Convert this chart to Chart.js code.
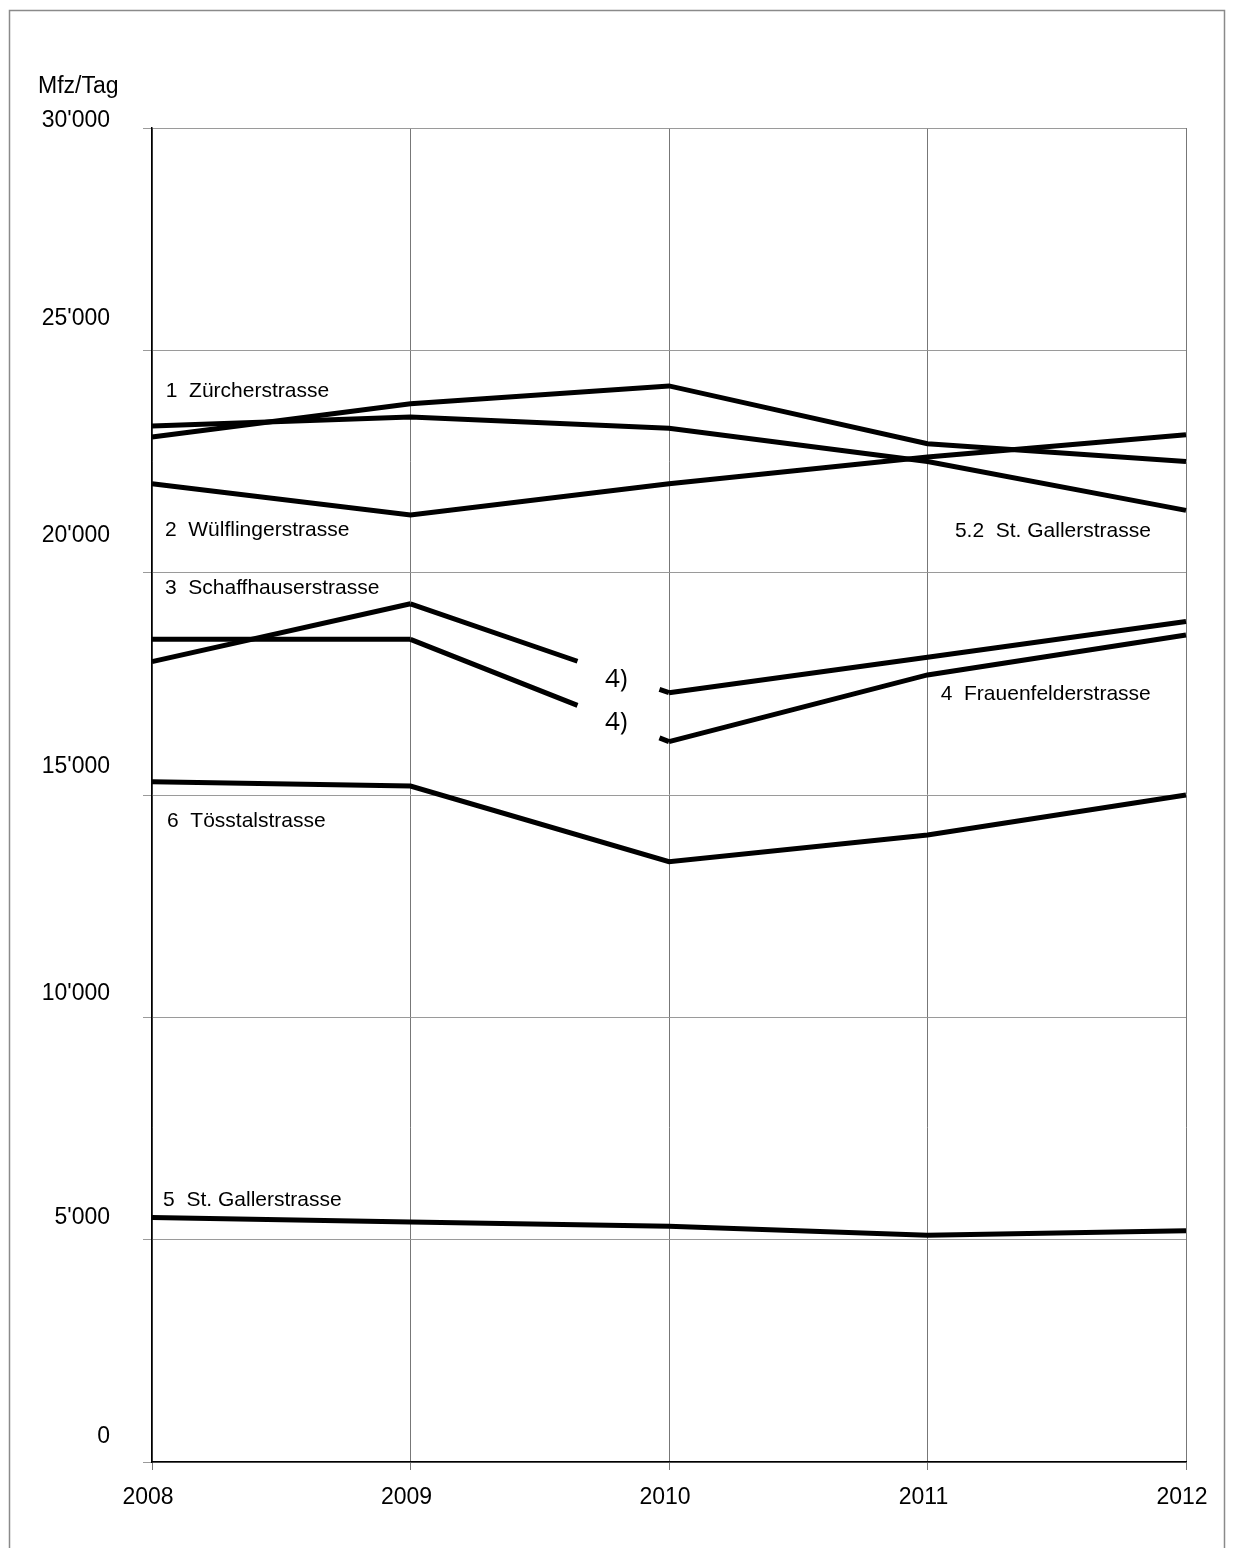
<!DOCTYPE html>
<html>
<head>
<meta charset="utf-8">
<script src="https://cdn.jsdelivr.net/npm/chart.js@4/dist/chart.umd.min.js"></script>
<style>
  html, body { margin: 0; padding: 0; background: #fff; }
  #wrap { position: relative; width: 1233px; height: 1548px; }
</style>
</head>
<body>
<div id="wrap"><canvas id="myChart"></canvas></div>
<script>
const years = ['2008', '2009', '2010', '2011', '2012'];

const zuercher = [23050, 23800, 24200, 22900, 22500];
const stGallen52 = [23300, 23500, 23250, 22500, 21400];
const wuelflinger = [22000, 21300, 22000, 22600, 23100];
const schaffhauser = [18000, 19300, 17300, 18100, 18900];
const frauenfelder = [18500, 18500, 16200, 17700, 18600];
const toesstal = [15300, 15200, 13500, 14100, 15000];
const stGallen5 = [5500, 5400, 5300, 5100, 5200];

const yTicks = [0, 5000, 10000, 15000, 20000, 25000, 30000];

// street labels inside the plot, anchored in axis units (year index, Mfz/Tag)
const notes = [
    { text: '1  Zürcherstrasse', at: 0.053, value: 24075 },
    { text: '2  Wülflingerstrasse', at: 0.05, value: 20964 },
    { text: '3  Schaffhauserstrasse', at: 0.05, value: 19653 },
    { text: '5.2  St. Gallerstrasse', at: 3.106, value: 20926 },
    { text: '4  Frauenfelderstrasse', at: 3.051, value: 17268 },
    { text: '6  Tösstalstrasse', at: 0.058, value: 14403 },
    { text: '5  St. Gallerstrasse', at: 0.043, value: 5893 }
];
const footnotes = [
    { text: '4)', at: 1.752, value: 17601 },
    { text: '4)', at: 1.752, value: 16634 }
];

// vertical shift of each y label above its grid line
const yLabelShift = [-25, -22, -24, -28, -37, -32, -7];

function swiss(v) {
    return String(v).replace(/\B(?=(\d{3})+(?!\d))/g, "'");
}

// 2009-2010 segment has a break (footnote 4)
const gapSegment = {
    borderDash: c => {
        if (c.p0DataIndex !== 1) return undefined;
        const len = Math.hypot(c.p1.x - c.p0.x, c.p1.y - c.p0.y);
        return [len * 0.646, len * 0.317, len];
    }
};

const overlay = {
    id: 'overlay',
    beforeDraw(chart) {
        const ctx = chart.ctx;
        ctx.save();
        ctx.strokeStyle = '#8a8a8a';
        ctx.lineWidth = 1.5;
        ctx.beginPath();
        ctx.moveTo(9.5, 1548);
        ctx.lineTo(9.5, 10.5);
        ctx.lineTo(1224.5, 10.5);
        ctx.lineTo(1224.5, 1548);
        ctx.stroke();
        ctx.restore();
    },
    afterDraw(chart) {
        const ctx = chart.ctx;
        const x = chart.scales.x;
        const y = chart.scales.y;
        ctx.save();
        ctx.fillStyle = '#000';

        ctx.font = '23px "Liberation Sans", Arial, sans-serif';
        ctx.textAlign = 'right';
        ctx.textBaseline = 'middle';
        yTicks.forEach((v, i) => {
            ctx.fillText(swiss(v), 110, y.getPixelForValue(v) + yLabelShift[i]);
        });
        ctx.textAlign = 'left';
        ctx.fillText('Mfz/Tag', 38, 87);

        ctx.font = '21px "Liberation Sans", Arial, sans-serif';
        notes.forEach(n => {
            ctx.fillText(n.text, x.getPixelForValue(n.at), y.getPixelForValue(n.value));
        });
        ctx.font = '26px "Open Sans", sans-serif';
        footnotes.forEach(n => {
            ctx.fillText(n.text, x.getPixelForValue(n.at), y.getPixelForValue(n.value));
        });
        ctx.restore();
    }
};

function line(label, data, extra) {
    return Object.assign({
        label: label,
        data: data,
        borderColor: '#000',
        borderWidth: 5,
        pointRadius: 0,
        pointHoverRadius: 0,
        fill: false,
        tension: 0
    }, extra || {});
}

const ctx = document.getElementById('myChart').getContext('2d');
const myChart = new Chart(ctx, {
    type: 'line',
    data: {
        labels: years,
        datasets: [
            line('1 Zürcherstrasse', zuercher),
            line('5.2 St. Gallerstrasse', stGallen52),
            line('2 Wülflingerstrasse', wuelflinger),
            line('3 Schaffhauserstrasse', schaffhauser, { segment: gapSegment }),
            line('4 Frauenfelderstrasse', frauenfelder, { segment: gapSegment }),
            line('6 Tösstalstrasse', toesstal),
            line('5 St. Gallerstrasse', stGallen5)
        ]
    },
    options: {
        responsive: true,
        maintainAspectRatio: false,
        animation: false,
        layout: {
            padding: { top: 128, left: 0, right: 47, bottom: 0 }
        },
        scales: {
            x: {
                offset: false,
                afterFit: s => { s.height = 86; },
                grid: {
                    color: '#777',
                    lineWidth: 1,
                    tickLength: 8
                },
                border: { color: '#000', width: 1.5 },
                ticks: {
                    color: '#000',
                    padding: 14,
                    labelOffset: -4,
                    maxRotation: 0,
                    font: { family: '"Liberation Sans", Arial, sans-serif', size: 23 }
                }
            },
            y: {
                min: 0,
                max: 30000,
                afterFit: s => { s.width = 152; },
                afterBuildTicks: s => { s.ticks = yTicks.map(v => ({ value: v })); },
                grid: {
                    color: '#9a9a9a',
                    lineWidth: 1,
                    tickLength: 9
                },
                border: { color: '#000', width: 1.5 },
                ticks: { display: false }
            }
        },
        plugins: {
            legend: { display: false },
            title: { display: false },
            tooltip: { enabled: false }
        }
    },
    plugins: [overlay]
});
</script>
</body>
</html>
